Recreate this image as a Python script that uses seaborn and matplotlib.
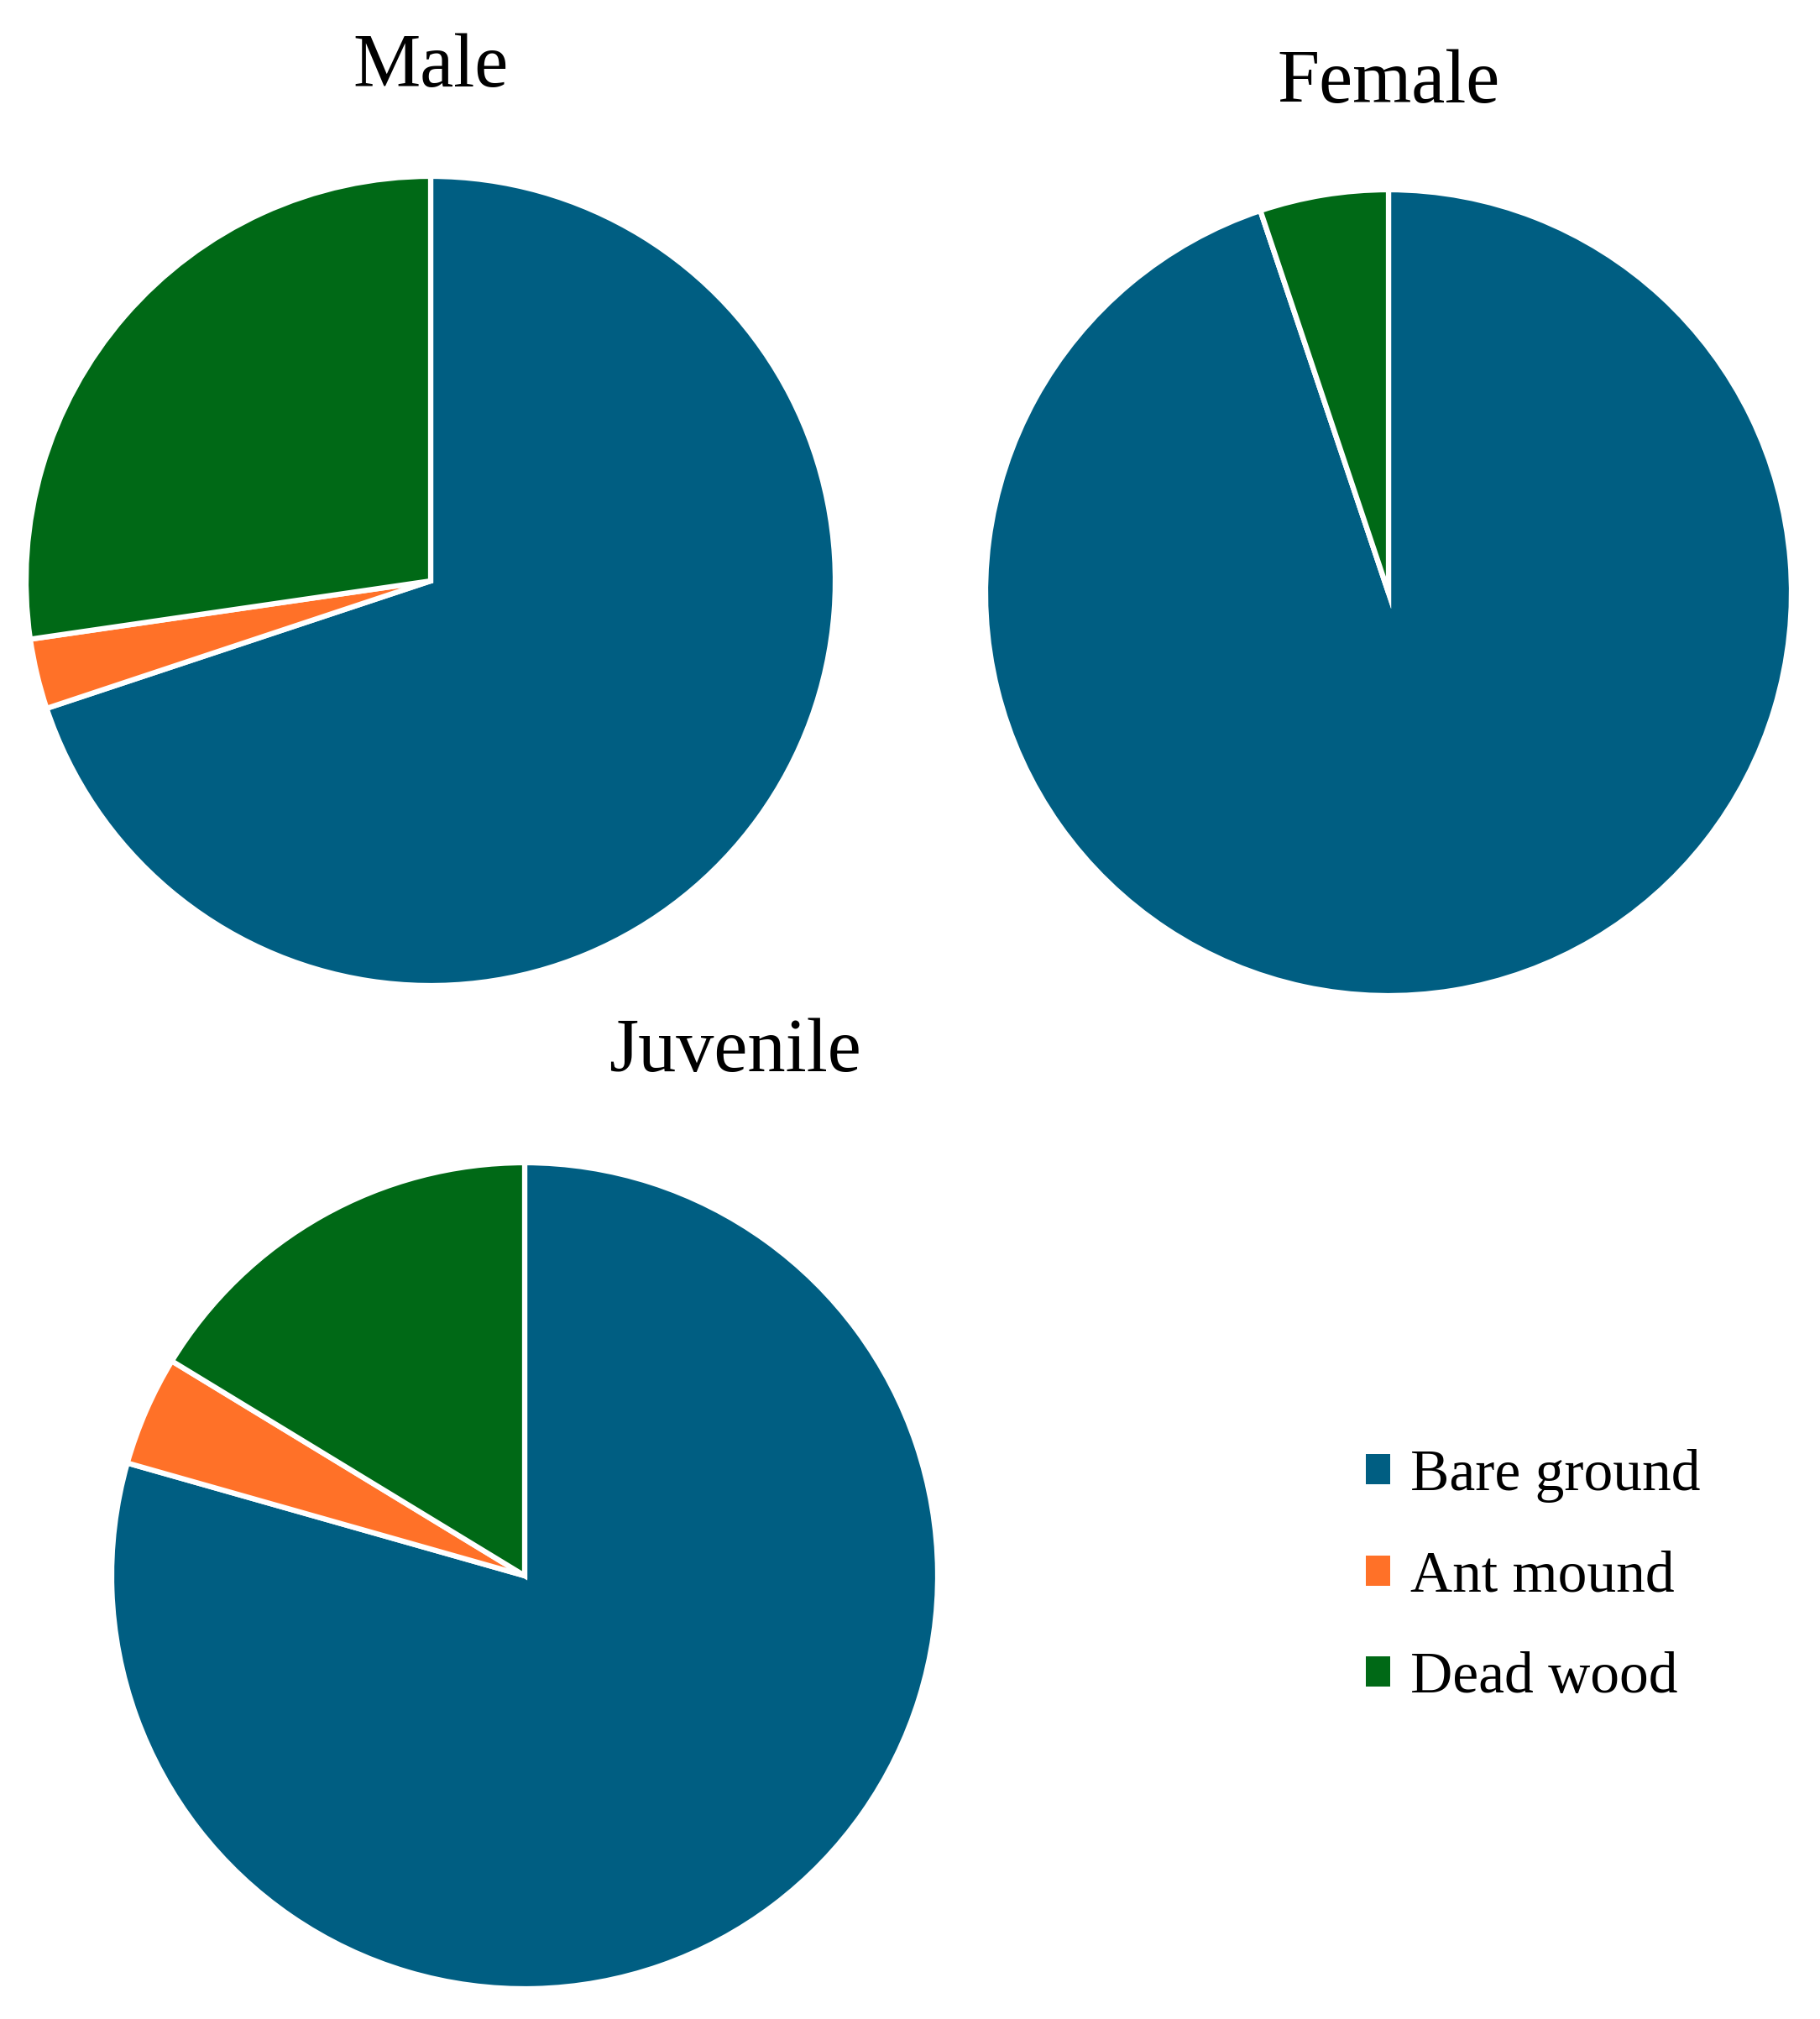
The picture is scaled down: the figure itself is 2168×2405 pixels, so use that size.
import matplotlib
matplotlib.use("Agg")
import matplotlib.pyplot as plt
import seaborn as sns
from matplotlib.patches import Patch

# ---- data ----
categories = ["Bare ground", "Ant mound", "Dead wood"]
male = [69.9, 2.8, 27.3]
female = [94.85, 0.0, 5.15]
juvenile = [79.4, 4.3, 16.3]
titles = ["Male", "Female", "Juvenile"]
colors = ["#005E82", "#FF7128", "#006916"]

sns.set_theme(style="white")
plt.rcParams["font.family"] = ["Liberation Serif", "DejaVu Serif"]
plt.rcParams["text.color"] = "black"
palette = sns.color_palette(colors)

W, H = 2168, 2405
fig = plt.figure(figsize=(W / 100, H / 100), dpi=100)
fig.patch.set_facecolor("white")

# pie geometry in pixels: (cx, cy, r)
geoms = [(513, 692, 482), (1654, 706, 480), (625, 1877, 492)]
title_pos = [(513, 103), (1654, 122), (875, 1276)]
series = [male, female, juvenile]

for vals, (cx, cy, r), title, (tx, ty) in zip(series, geoms, titles, title_pos):
    ax = fig.add_axes([(cx - r) / W, 1 - (cy + r) / H, 2 * r / W, 2 * r / H])
    ax.pie(vals, colors=palette, startangle=90, counterclock=False, radius=1,
           wedgeprops=dict(edgecolor="white", linewidth=4.5))
    ax.set_xlim(-1, 1)
    ax.set_ylim(-1, 1)
    ax.set_aspect("equal")
    ax.axis("off")
    fig.text(tx / W, 1 - ty / H, title, ha="center", va="baseline", fontsize=65, color="black")

handles = [Patch(facecolor=c, edgecolor="none") for c in palette]
leg = fig.legend(handles, categories, loc="upper left",
                 bbox_to_anchor=(1627 / W, 1 - 1726 / H),
                 frameon=False, fontsize=50, handlelength=0.42, handleheight=0.42,
                 handletextpad=0.35, labelspacing=0.82, borderpad=0, borderaxespad=0)
for t in leg.get_texts():
    t.set_color("black")

fig.savefig("out.png", dpi=100, facecolor="white")
